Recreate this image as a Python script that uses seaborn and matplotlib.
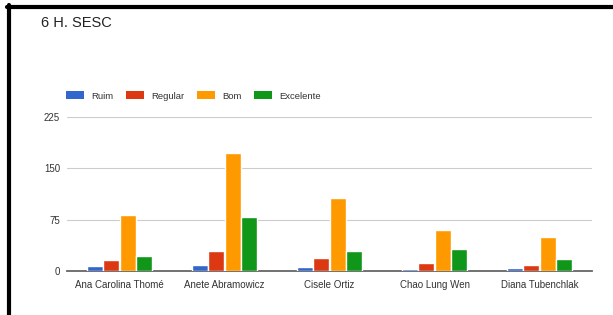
import matplotlib
matplotlib.use("Agg")
import matplotlib.pyplot as plt
from matplotlib import font_manager
from matplotlib.lines import Line2D
from matplotlib.patches import Patch
import seaborn as sns
import pandas as pd

categories = ["Ana Carolina Thomé", "Anete Abramowicz", "Cisele Ortiz", "Chao Lung Wen", "Diana Tubenchlak"]
series_names = ["Ruim", "Regular", "Bom", "Excelente"]
ruim = [7, 8, 5, 3, 4]
regular = [15, 29, 18, 11, 8]
bom = [81, 172, 106, 59, 50]
excelente = [22, 79, 29, 32, 17]
yticks = [0, 75, 150, 225]
colors = ["#3366cc", "#dc3912", "#ff9900", "#109618"]

rows = []
for s, vals in zip(series_names, [ruim, regular, bom, excelente]):
    for c, v in zip(categories, vals):
        rows.append({"cat": c, "serie": s, "valor": v})
df = pd.DataFrame(rows)

sns.set_style("white")
plt.rcParams["font.family"] = ["Liberation Sans", "DejaVu Sans"]
fs_tick, fs_leg, fs_title = 7, 6.8, 10.5

fig = plt.figure(figsize=(6.13, 3.15), dpi=100)
ax = fig.add_axes([67/613, 1-270.7/315, (592-67)/613, (270.7-117.3)/315])

sns.barplot(data=df, x="cat", y="valor", hue="serie", order=categories,
            hue_order=series_names, palette=colors, width=0.63, gap=0.05,
            saturation=1, ax=ax, legend=False)

ax.set_ylim(0, 225)
ax.set_xlim(-0.5, len(categories) - 0.5)
ax.set_yticks(yticks)
ax.set_yticklabels([str(t) for t in yticks])
ax.yaxis.grid(True, color="#cccccc", linewidth=0.8)
ax.set_axisbelow(True)
for sp in ["top", "right", "left"]:
    ax.spines[sp].set_visible(False)
ax.spines["bottom"].set_color("#666666")
ax.spines["bottom"].set_linewidth(1.3)
ax.spines["bottom"].set_zorder(0.8)
ax.set_xlabel("")
ax.set_ylabel("")
ax.tick_params(axis="both", length=0, labelsize=fs_tick, labelcolor="#333333")
ax.tick_params(axis="y", pad=5)
ax.tick_params(axis="x", pad=7)

fig.text(41/613, 1-23/315, "6 H. SESC", fontsize=fs_title, color="#222222", va="center", ha="left")

handles = [Patch(facecolor=c, edgecolor="none") for c in colors]
fig.legend(handles, series_names, loc="center left", bbox_to_anchor=(66/613, 1-96/315),
           ncol=4, frameon=False, fontsize=fs_leg, handlelength=1.9, handleheight=0.85,
           handletextpad=0.8, columnspacing=1.3, labelcolor="#333333",
           borderaxespad=0, borderpad=0)

# black frame at top and left
fig.add_artist(Line2D([8.5/613, 8.5/613], [0, 1-5/315], transform=fig.transFigure, color="black", linewidth=3))
fig.add_artist(Line2D([7/613, 1], [1-7/315, 1-7/315], transform=fig.transFigure, color="black", linewidth=3))

fig.savefig("out.png", dpi=100)
